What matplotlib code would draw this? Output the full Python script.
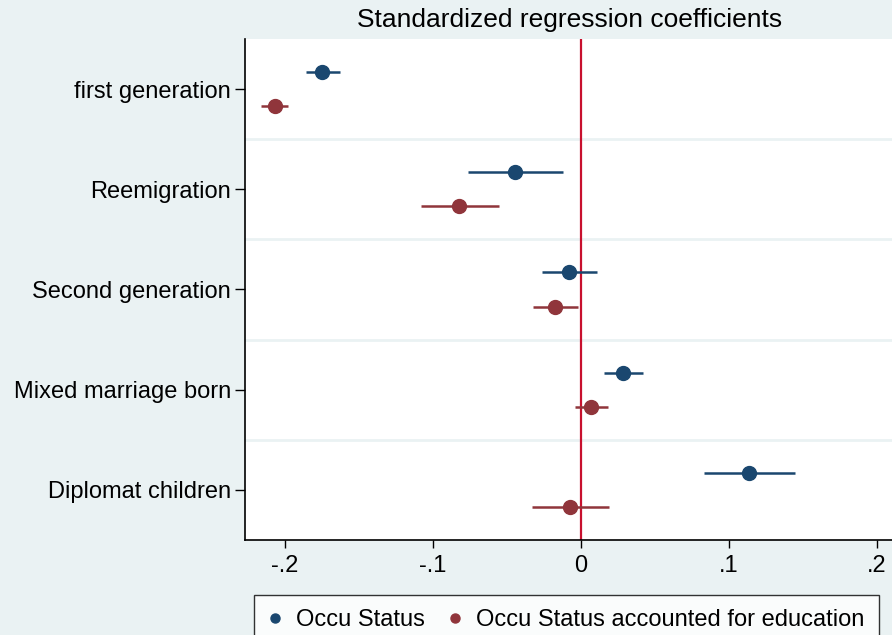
import numpy as np
import matplotlib
matplotlib.use("Agg")
import matplotlib.pyplot as plt
from matplotlib.lines import Line2D

plt.rcParams["font.family"] = ["Liberation Sans", "DejaVu Sans"]

# data
categories = ["first generation", "Reemigration", "Second generation",
              "Mixed marriage born", "Diplomat children"]
occu_coef = [-0.175, -0.0446, -0.0081, 0.0286, 0.1135]
occu_lo = [-0.186, -0.0766, -0.0266, 0.0158, 0.0831]
occu_hi = [-0.163, -0.0124, 0.0106, 0.0422, 0.1444]
edu_coef = [-0.207, -0.0822, -0.0176, 0.0070, -0.0074]
edu_lo = [-0.216, -0.1083, -0.0327, -0.0038, -0.0329]
edu_hi = [-0.198, -0.0556, -0.0023, 0.0180, 0.0187]
xticks = [-0.2, -0.1, 0, 0.1, 0.2]
xticklabels = ["-.2", "-.1", "0", ".1", ".2"]
series = ["Occu Status", "Occu Status accounted for education"]

BLUE = "#1a476f"
RED = "#90353b"
BG = "#eaf2f3"
ZERO = "#c8102e"

W, H = 892, 635
fig = plt.figure(figsize=(W / 100, H / 100), dpi=100, facecolor=BG)
ax = fig.add_axes([245 / W, (H - 540) / H, (W - 245) / W, (540 - 39) / H])
ax.set_facecolor("white")

y = np.arange(len(categories))
off = 0.17
for coef, lo, hi, col, d in [(occu_coef, occu_lo, occu_hi, BLUE, -off),
                             (edu_coef, edu_lo, edu_hi, RED, off)]:
    coef = np.array(coef)
    ax.errorbar(coef, y + d,
                xerr=[coef - np.array(lo), np.array(hi) - coef],
                fmt="o", color=col, ms=10, elinewidth=1.8, capsize=0, zorder=3)

ax.axvline(0, color=ZERO, lw=1.6, zorder=2)
for g in np.arange(0.5, len(categories) - 0.5, 1):
    ax.axhline(g, color=BG, lw=2, zorder=1)

ax.set_ylim(len(categories) - 0.5, -0.5)
ax.set_xlim((245 - 581) / 1480, (W - 581) / 1480)
ax.set_yticks(y)
ax.set_yticklabels(categories, fontsize=17)
ax.set_xticks(xticks)
ax.set_xticklabels(xticklabels, fontsize=17)
ax.tick_params(axis="y", length=7, width=1, pad=3)
ax.tick_params(axis="x", length=6, width=1, pad=5)
for s in ["top", "right"]:
    ax.spines[s].set_visible(False)
for s in ["left", "bottom"]:
    ax.spines[s].set_linewidth(1.2)

fig.text(570 / W, 1 - 20 / H, "Standardized regression coefficients",
         ha="center", va="center", fontsize=19)

handles = [Line2D([], [], marker="o", ls="", color=BLUE, ms=6.5),
           Line2D([], [], marker="o", ls="", color=RED, ms=6.5)]
leg = fig.legend(handles, series,
                 loc="upper left", bbox_to_anchor=(254 / W, 1 - 595 / H, (879 - 254) / W, 0),
                 mode="expand", ncol=2, fontsize=17, frameon=True, fancybox=False,
                 handlelength=0.6, handletextpad=0.6, columnspacing=1.4,
                 borderpad=0.6, borderaxespad=0)
leg.get_frame().set_edgecolor("black")
leg.get_frame().set_linewidth(1)

fig.savefig("out.png", dpi=100, facecolor=BG)
